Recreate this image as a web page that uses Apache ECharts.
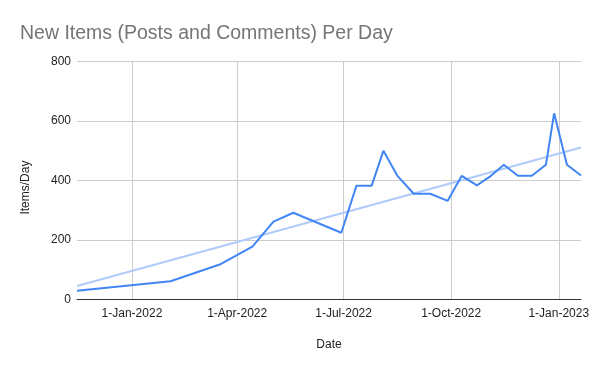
<!DOCTYPE html>
<html>
<head>
<meta charset="utf-8">
<script src="https://cdn.jsdelivr.net/npm/echarts@6/dist/echarts.min.js"></script>
<style>
html,body{margin:0;padding:0;background:#fff;}
#chart{width:600px;height:371px;}
</style>
</head>
<body>
<div id="chart"></div>
<script>
const dates = ['2021-11-15','2022-02-03','2022-03-17','2022-04-14','2022-05-02','2022-05-19','2022-06-29','2022-07-12','2022-07-25','2022-08-04','2022-08-16','2022-08-30','2022-09-13','2022-09-28','2022-10-10','2022-10-23','2022-11-04','2022-11-15','2022-11-27','2022-12-09','2022-12-21','2022-12-28','2023-01-08','2023-01-20'];
const itemsPerDay = [30,62,118,178,262,292,225,383,383,500,416,356,356,332,416,384,416,453,416,416,453,626,453,417];
const trendDates = ['2021-11-15','2023-01-20'];
const trendValues = [46,511];
const xTickDates = ['2022-01-01','2022-04-01','2022-07-01','2022-10-01','2023-01-01'];
const yTicks = [0,200,400,600,800];
const monthNames = ['Jan','Feb','Mar','Apr','May','Jun','Jul','Aug','Sep','Oct','Nov','Dec'];

function ts(s){const p=s.split('-').map(Number);return new Date(p[0],p[1]-1,p[2]).getTime();}
function fmt(v){const d=new Date(v);return d.getDate()+'-'+monthNames[d.getMonth()]+'-'+d.getFullYear();}

const chart = echarts.init(document.getElementById('chart'), null, {renderer:'canvas'});
const font = 'Arial, "Liberation Sans", sans-serif';
chart.setOption({
  animation:false,
  backgroundColor:'#ffffff',
  title:{
    text:'New Items (Posts and Comments) Per Day',
    left:15, top:19,
    textStyle:{fontFamily:font,fontSize:19.5,fontWeight:'normal',color:'#757575'}
  },
  grid:{left:77,right:19,top:61.5,bottom:71.3,containLabel:false},
  xAxis:{
    type:'value',
    min:ts(dates[0]),
    max:ts(dates[dates.length-1]),
    name:'Date',
    nameLocation:'middle',
    nameGap:39,
    nameTextStyle:{fontFamily:font,fontSize:12,color:'#222'},
    axisLine:{show:true,lineStyle:{color:'#333',width:1}},
    axisTick:{show:false,customValues:xTickDates.map(ts)},
    axisLabel:{customValues:xTickDates.map(ts),formatter:function(v){return fmt(v);},fontFamily:font,fontSize:12,color:'#222',margin:8,hideOverlap:false},
    splitLine:{show:true,lineStyle:{color:'#cccccc',width:1}}
  },
  yAxis:{
    type:'value',
    min:yTicks[0],max:yTicks[yTicks.length-1],interval:200,
    name:'Items/Day',
    nameLocation:'middle',
    nameGap:45,
    nameTextStyle:{fontFamily:font,fontSize:12,color:'#222',padding:[0,14,0,0]},
    axisLine:{show:false},
    axisTick:{show:false},
    axisLabel:{fontFamily:font,fontSize:12,color:'#222',margin:6},
    splitLine:{show:true,lineStyle:{color:'#cccccc',width:1}}
  },
  series:[
    {
      type:'line',
      data:trendDates.map((d,i)=>[ts(d),trendValues[i]]),
      showSymbol:false,
      lineStyle:{color:'#aecbfa',width:2},
      itemStyle:{color:'#aecbfa'},
      z:2
    },
    {
      type:'line',
      data:dates.map((d,i)=>[ts(d),itemsPerDay[i]]),
      showSymbol:false,
      lineStyle:{color:'#4285f4',width:2},
      itemStyle:{color:'#4285f4'},
      z:3
    }
  ]
});
</script>
</body>
</html>
